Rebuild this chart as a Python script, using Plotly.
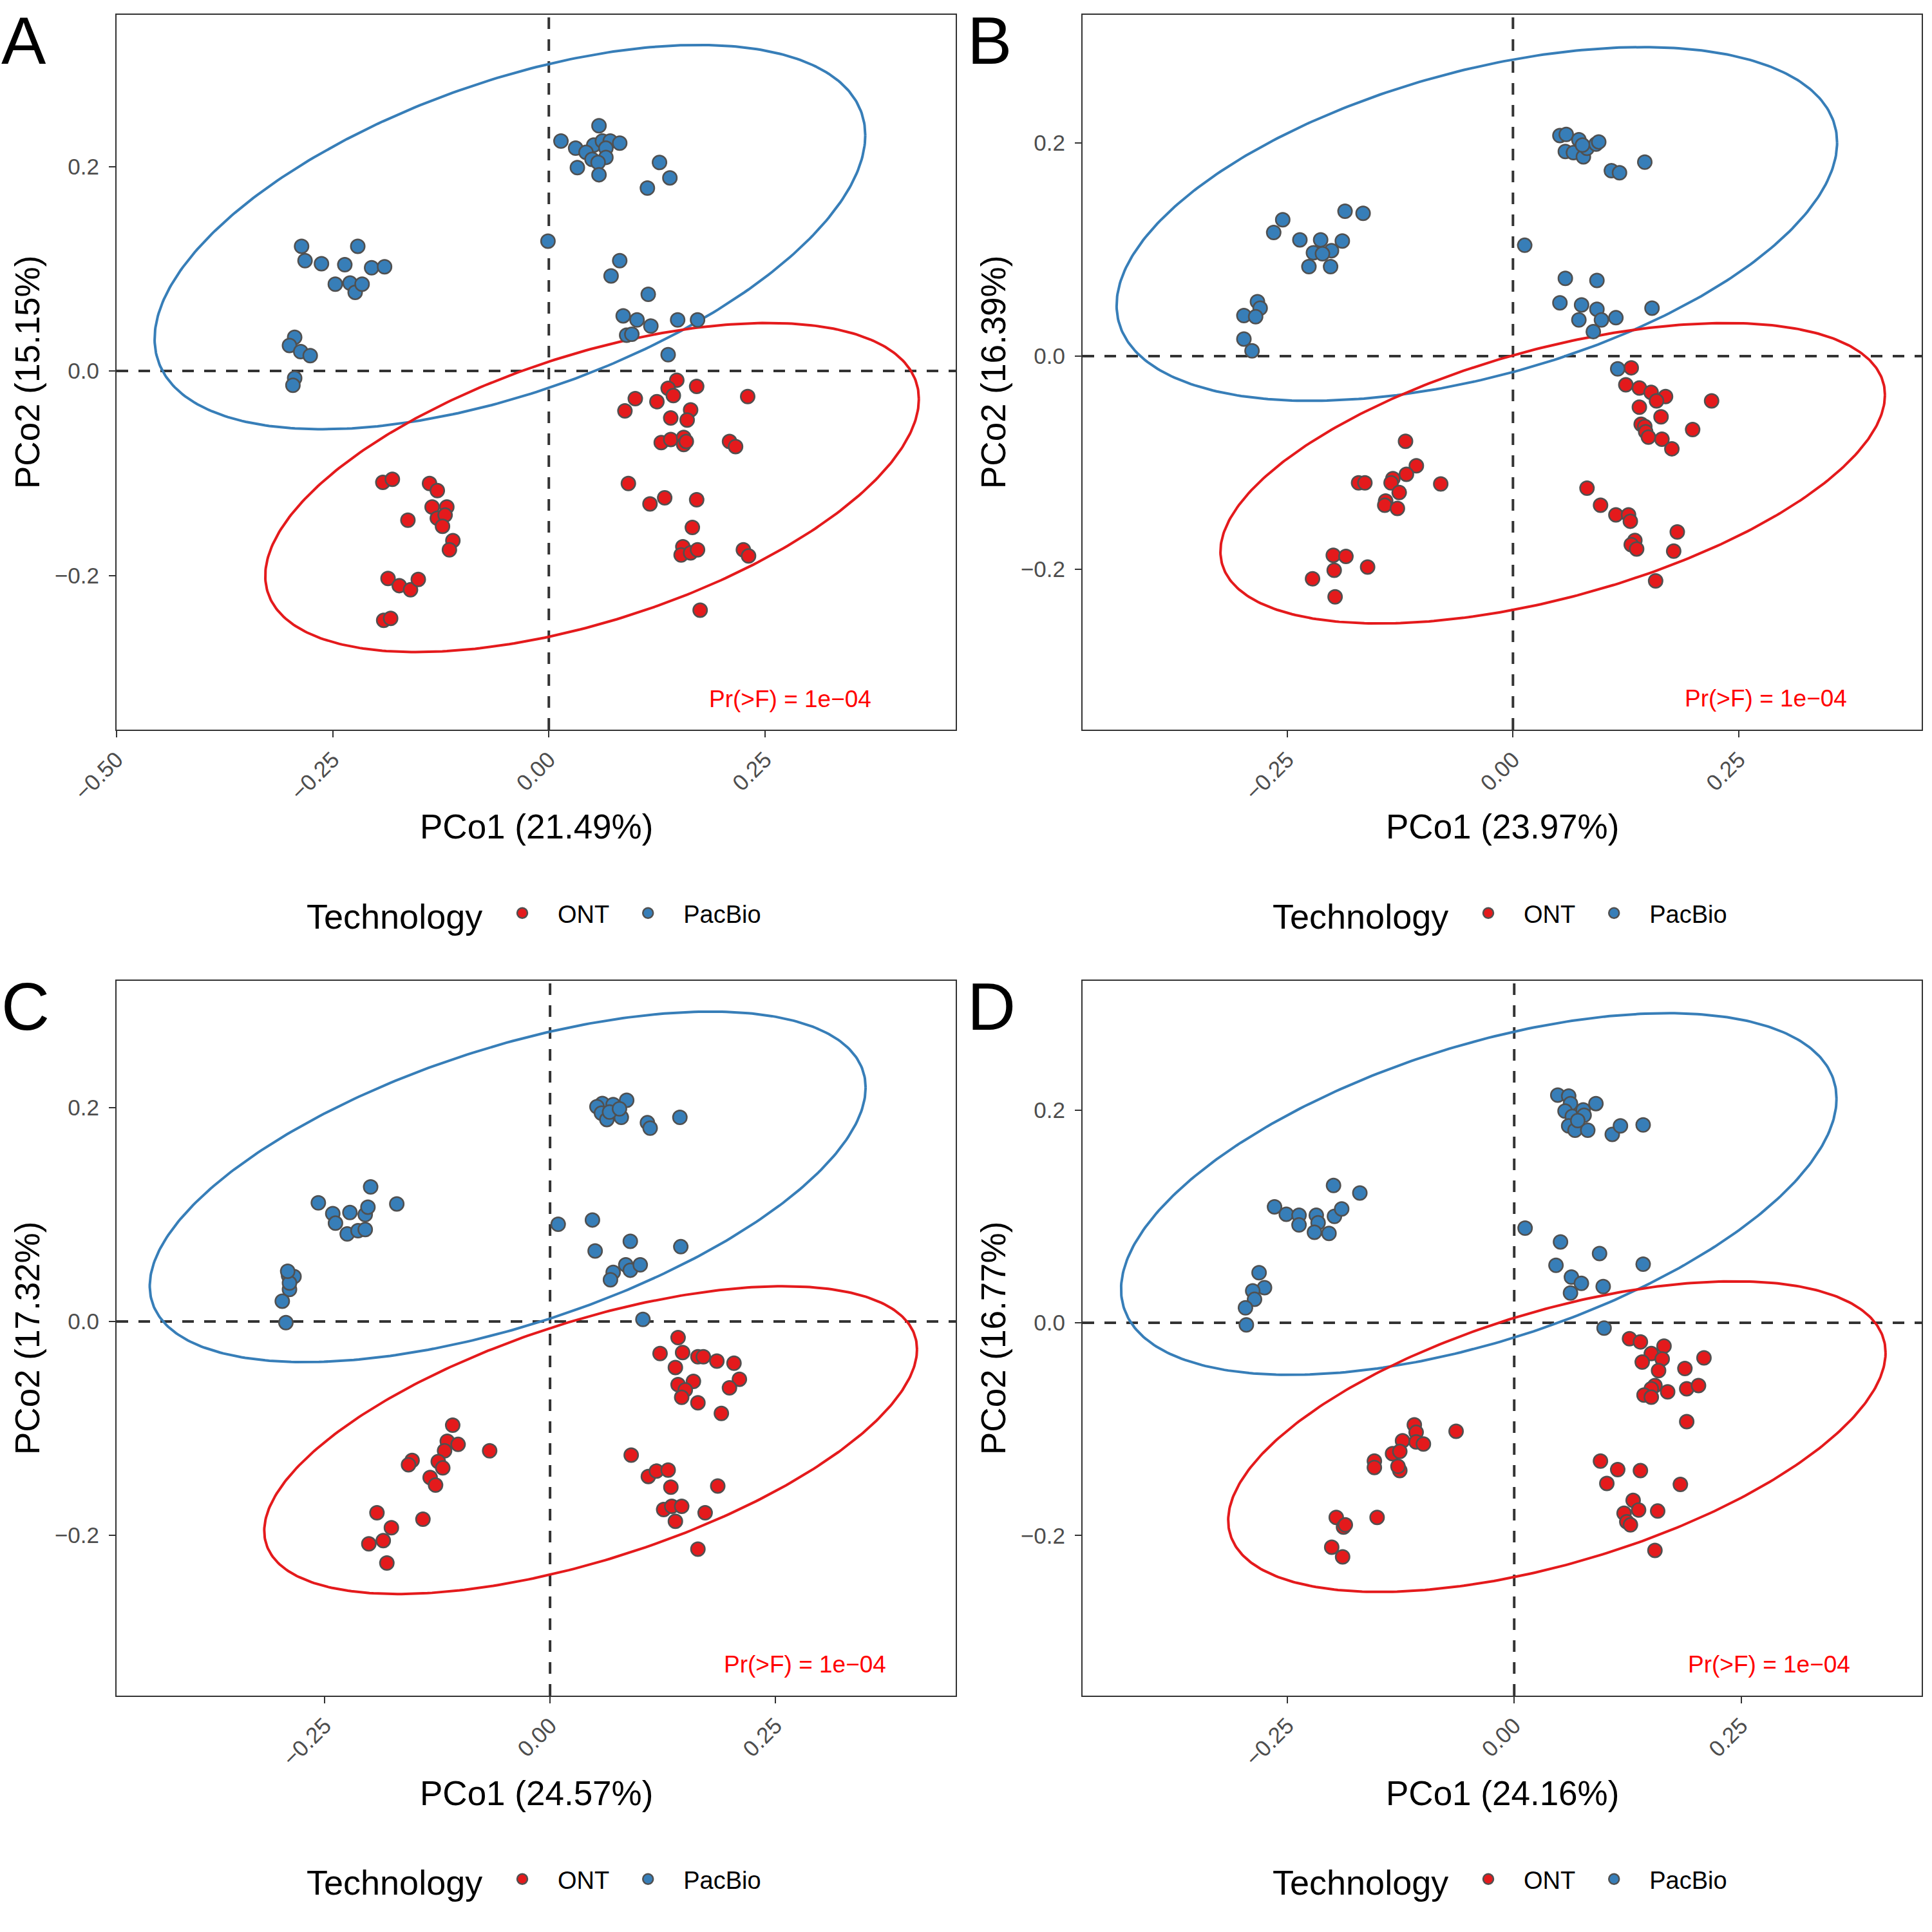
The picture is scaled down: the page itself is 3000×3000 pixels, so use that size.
import numpy as np
import plotly.graph_objects as go

# ---------------- data ----------------
panels = ["A", "B", "C", "D"]
x_titles = ["PCo1 (21.49%)", "PCo1 (23.97%)", "PCo1 (24.57%)", "PCo1 (24.16%)"]
y_titles = ["PCo2 (15.15%)", "PCo2 (16.39%)", "PCo2 (17.32%)", "PCo2 (16.77%)"]
groups = ["ONT", "PacBio"]
group_colors = ["#E41A1C", "#377EB8"]
legend_title = "Technology"
p_label = "Pr(>F) = 1e\u221204"

# Panel A
A_pac_x = [0.058, 0.014, 0.031, 0.052, 0.043, 0.062, 0.071, 0.082, 0.066, 0.050, 0.066, 0.057, 0.033, 0.058,
           0.128, 0.140, 0.114,
           -0.286, -0.282, -0.263, -0.236, -0.221, -0.247, -0.230, -0.224, -0.216, -0.205, -0.190,
           -0.294, -0.300, -0.287, -0.276, -0.294, -0.296,
           -0.001, 0.082, 0.072, 0.115, 0.086, 0.102, 0.118, 0.149, 0.172, 0.090, 0.096, 0.138]
A_pac_y = [0.240, 0.225, 0.218, 0.221, 0.214, 0.225, 0.225, 0.223, 0.218, 0.207, 0.209, 0.204, 0.199, 0.192,
           0.204, 0.189, 0.179,
           0.122, 0.108, 0.105, 0.104, 0.122, 0.085, 0.086, 0.077, 0.085, 0.101, 0.102,
           0.033, 0.025, 0.019, 0.015, -0.007, -0.014,
           0.127, 0.108, 0.093, 0.075, 0.054, 0.050, 0.044, 0.050, 0.050, 0.035, 0.036, 0.016]
A_ont_x = [0.148, 0.138, 0.144, 0.171, 0.230, 0.100, 0.088, 0.125, 0.141, 0.164, 0.160, 0.130, 0.141, 0.156,
           0.156, 0.159, 0.209, 0.216, 0.092, 0.117, 0.134, 0.171, 0.166, 0.155, 0.153, 0.164, 0.172, 0.225,
           0.231, 0.175,
           -0.192, -0.181, -0.138, -0.129, -0.135, -0.118, -0.129, -0.120, -0.123, -0.163, -0.111, -0.115,
           -0.186, -0.173, -0.160, -0.151, -0.191, -0.183]
A_ont_y = [-0.009, -0.017, -0.024, -0.015, -0.025, -0.027, -0.039, -0.030, -0.046, -0.038, -0.048, -0.070,
           -0.067, -0.065, -0.072, -0.069, -0.069, -0.074, -0.110, -0.130, -0.124, -0.126, -0.153, -0.172,
           -0.180, -0.178, -0.175, -0.175, -0.181, -0.234,
           -0.109, -0.106, -0.110, -0.117, -0.133, -0.133, -0.144, -0.141, -0.152, -0.146, -0.166, -0.175,
           -0.203, -0.210, -0.214, -0.204, -0.244, -0.242]

# Panel B
B_pac_x = [0.052, 0.059, 0.073, 0.058, 0.067, 0.078, 0.082, 0.092, 0.095, 0.077, 0.109, 0.118, 0.146,
           0.013, 0.058, 0.093, 0.052, 0.076, 0.093, 0.073, 0.098, 0.114, 0.089, 0.154,
           -0.265, -0.255, -0.236, -0.213, -0.221, -0.201, -0.189, -0.186, -0.166, -0.226, -0.202, -0.211,
           -0.298, -0.283, -0.280, -0.285, -0.298, -0.289, 0.116]
B_pac_y = [0.207, 0.208, 0.203, 0.192, 0.191, 0.187, 0.195, 0.199, 0.201, 0.198, 0.174, 0.172, 0.182,
           0.104, 0.073, 0.071, 0.050, 0.048, 0.044, 0.034, 0.034, 0.036, 0.023, 0.045,
           0.116, 0.128, 0.109, 0.109, 0.097, 0.099, 0.108, 0.136, 0.134, 0.084, 0.084, 0.096,
           0.038, 0.051, 0.045, 0.037, 0.016, 0.005, -0.012]
B_ont_x = [0.131, 0.125, 0.140, 0.153, 0.169, 0.159, 0.140, 0.164, 0.220, 0.142, 0.146, 0.147, 0.150,
           0.165, 0.176, 0.199,
           0.082, 0.097, 0.114, 0.128, 0.130, 0.135, 0.131, 0.137, 0.182, 0.178, 0.158,
           -0.119, -0.107, -0.118, -0.133, -0.135, -0.171, -0.164, -0.080, -0.126, -0.141, -0.142, -0.128,
           -0.199, -0.185, -0.198, -0.222, -0.161, -0.197]
B_ont_y = [-0.011, -0.027, -0.030, -0.034, -0.038, -0.042, -0.048, -0.057, -0.042, -0.064, -0.066, -0.071,
           -0.076, -0.078, -0.087, -0.069,
           -0.124, -0.140, -0.149, -0.149, -0.155, -0.173, -0.177, -0.181, -0.165, -0.183, -0.211,
           -0.080, -0.103, -0.111, -0.115, -0.119, -0.119, -0.119, -0.120, -0.128, -0.136, -0.140, -0.143,
           -0.187, -0.188, -0.201, -0.209, -0.198, -0.226]

# Panel C
C_pac_x = [0.058, 0.052, 0.070, 0.085, 0.057, 0.063, 0.079, 0.066, 0.108, 0.111, 0.144, 0.077,
           0.009, 0.047, 0.089, 0.050, 0.145, 0.070, 0.084, 0.089, 0.100, 0.067, 0.103,
           -0.257, -0.241, -0.238, -0.222, -0.225, -0.213, -0.205, -0.205, -0.202, -0.199, -0.170,
           -0.290, -0.284, -0.289, -0.289, -0.297, -0.293, -0.291]
C_pac_y = [0.204, 0.201, 0.203, 0.207, 0.195, 0.189, 0.191, 0.196, 0.186, 0.181, 0.191, 0.199,
           0.091, 0.095, 0.075, 0.066, 0.070, 0.046, 0.053, 0.048, 0.053, 0.039, 0.002,
           0.111, 0.101, 0.092, 0.102, 0.082, 0.085, 0.086, 0.100, 0.107, 0.126, 0.110,
           0.043, 0.042, 0.030, 0.036, 0.019, -0.001, 0.047]
C_ont_x = [0.142, 0.122, 0.147, 0.139, 0.164, 0.170, 0.185, 0.204, 0.210, 0.199, 0.159, 0.142, 0.150,
           0.146, 0.164, 0.190,
           0.090, 0.109, 0.118, 0.131, 0.134, 0.126, 0.135, 0.146, 0.139, 0.172, 0.186, 0.164,
           -0.108, -0.114, -0.102, -0.117, -0.124, -0.119, -0.133, -0.127, -0.153, -0.157, -0.067, -0.141,
           -0.192, -0.176, -0.185, -0.201, -0.181]
C_ont_y = [-0.015, -0.030, -0.029, -0.043, -0.033, -0.033, -0.037, -0.039, -0.054, -0.062, -0.056,
           -0.059, -0.064, -0.071, -0.076, -0.086,
           -0.125, -0.145, -0.140, -0.139, -0.155, -0.176, -0.173, -0.173, -0.187, -0.179, -0.154, -0.213,
           -0.097, -0.112, -0.115, -0.121, -0.131, -0.137, -0.146, -0.153, -0.130, -0.134, -0.121, -0.185,
           -0.179, -0.193, -0.205, -0.208, -0.226]

# Panel D
D_pac_x = [0.048, 0.060, 0.062, 0.056, 0.064, 0.076, 0.090, 0.077, 0.060, 0.067, 0.081, 0.108, 0.117,
           0.142, 0.070,
           0.012, 0.051, 0.046, 0.094, 0.142, 0.063, 0.074, 0.062, 0.098, 0.099,
           -0.264, -0.251, -0.237, -0.237, -0.218, -0.216, -0.220, -0.204, -0.198, -0.190, -0.199, -0.170,
           -0.281, -0.275, -0.288, -0.286, -0.296, -0.295]
D_pac_y = [0.214, 0.213, 0.206, 0.199, 0.194, 0.200, 0.206, 0.195, 0.185, 0.181, 0.181, 0.177, 0.185,
           0.186, 0.190,
           0.089, 0.076, 0.054, 0.065, 0.055, 0.043, 0.037, 0.028, 0.034, -0.005,
           0.109, 0.102, 0.101, 0.092, 0.101, 0.094, 0.085, 0.084, 0.100, 0.107, 0.129, 0.122,
           0.047, 0.033, 0.030, 0.022, 0.014, -0.002]
D_ont_x = [0.127, 0.139, 0.165, 0.151, 0.163, 0.141, 0.159, 0.188, 0.209, 0.155, 0.151, 0.143, 0.151,
           0.169, 0.190, 0.203, 0.190,
           0.095, 0.114, 0.102, 0.139, 0.183, 0.131, 0.121, 0.137, 0.124, 0.128, 0.158, 0.155,
           -0.110, -0.108, -0.123, -0.108, -0.100, -0.064, -0.134, -0.126, -0.126, -0.128, -0.154, -0.154,
           -0.151, -0.196, -0.188, -0.186, -0.201, -0.189]
D_ont_y = [-0.015, -0.018, -0.022, -0.029, -0.034, -0.037, -0.045, -0.043, -0.033, -0.059, -0.062,
           -0.068, -0.070, -0.065, -0.062, -0.059, -0.093,
           -0.130, -0.138, -0.151, -0.139, -0.152, -0.167, -0.179, -0.176, -0.187, -0.190, -0.177, -0.214,
           -0.096, -0.103, -0.111, -0.112, -0.114, -0.102, -0.123, -0.121, -0.139, -0.135, -0.130, -0.136,
           -0.183, -0.183, -0.192, -0.190, -0.211, -0.220]

# 95% ellipses per panel and group: centre x, centre y, half-width x, half-height y, correlation
ell_ont = {"cx": [0.050, 0.044, 0.045, 0.047], "cy": [-0.114, -0.110, -0.111, -0.107],
           "sx": [0.378, 0.368, 0.362, 0.362], "sy": [0.161, 0.141, 0.144, 0.146],
           "rho": [0.537, 0.521, 0.590, 0.540]}
ell_pac = {"cx": [-0.045, -0.040, -0.047, -0.039], "cy": [0.131, 0.124, 0.126, 0.121],
           "sx": [0.411, 0.399, 0.397, 0.394], "sy": [0.188, 0.166, 0.164, 0.170],
           "rho": [0.530, 0.460, 0.566, 0.527]}

# axis ranges and ticks
x_ranges = [[-0.5, 0.4706], [-0.4767, 0.4527], [-0.4808, 0.4499], [-0.4754, 0.4488]]
y_ranges = [[-0.3509, 0.3485], [-0.3506, 0.3203], [-0.3501, 0.3188], [-0.3505, 0.3214]]
x_tickvals = [[-0.5, -0.25, 0.0, 0.25], [-0.25, 0.0, 0.25], [-0.25, 0.0, 0.25], [-0.25, 0.0, 0.25]]
x_ticktext = [["\u22120.50", "\u22120.25", "0.00", "0.25"], ["\u22120.25", "0.00", "0.25"],
              ["\u22120.25", "0.00", "0.25"], ["\u22120.25", "0.00", "0.25"]]
y_tickvals = [-0.2, 0.0, 0.2]
y_ticktext = ["\u22120.2", "0.0", "0.2"]
p_pos_x = [0.279, 0.280, 0.283, 0.281]
p_pos_y = [-0.321, -0.321, -0.321, -0.321]

data = {
    "A": (A_ont_x, A_ont_y, A_pac_x, A_pac_y),
    "B": (B_ont_x, B_ont_y, B_pac_x, B_pac_y),
    "C": (C_ont_x, C_ont_y, C_pac_x, C_pac_y),
    "D": (D_ont_x, D_ont_y, D_pac_x, D_pac_y),
}

# ---------------- layout geometry (pixels of the 3000x3000 page) ----------------
W = H = 3000
col_left = [181, 1681, 181, 1681]
col_right = [1484, 2984, 1484, 2984]
row_top = [23, 23, 1523, 1523]
row_bot = [1133, 1133, 2633, 2633]
panel_x0 = [0, 1500, 0, 1500]
panel_y0 = [0, 0, 1500, 1500]
LEG_Y = 1418

FONT = "Liberation Sans, Arial, Helvetica, sans-serif"
EDGE = "#333333"
TICKC = "#4D4D4D"

fig = go.Figure()
t = np.linspace(0, 2 * np.pi, 400)

annotations = []
shapes = []
for i, p in enumerate(panels):
    sfx = "" if i == 0 else str(i + 1)
    xa, ya = "x" + sfx, "y" + sfx
    leg = "legend" + sfx
    ont_x, ont_y, pac_x, pac_y = data[p]

    # ellipses
    for ell, col in [(ell_pac, group_colors[1]), (ell_ont, group_colors[0])]:
        cx, cy, sx, sy, r = ell["cx"][i], ell["cy"][i], ell["sx"][i], ell["sy"][i], ell["rho"][i]
        ex = cx + sx * np.cos(t)
        ey = cy + sy * (r * np.cos(t) + np.sqrt(1 - r * r) * np.sin(t))
        fig.add_trace(go.Scatter(x=ex, y=ey, mode="lines", line=dict(color=col, width=4),
                                 xaxis=xa, yaxis=ya, showlegend=False, hoverinfo="skip"))

    # points
    for gx, gy, col, name in [(ont_x, ont_y, group_colors[0], groups[0]),
                              (pac_x, pac_y, group_colors[1], groups[1])]:
        fig.add_trace(go.Scatter(x=gx, y=gy, mode="markers", name=name,
                                 marker=dict(color=col, size=21.5, line=dict(color="#505050", width=2.5)),
                                 xaxis=xa, yaxis=ya, showlegend=True, legend=leg))

    dom_x = [col_left[i] / W, col_right[i] / W]
    dom_y = [1 - row_bot[i] / H, 1 - row_top[i] / H]
    fig.update_layout(**{
        "xaxis" + sfx: dict(domain=dom_x, range=x_ranges[i], anchor=ya, tickvals=x_tickvals[i],
                            ticktext=x_ticktext[i], tickangle=-45, showgrid=False, zeroline=False,
                            showline=True, mirror=True, linecolor=EDGE, linewidth=2.2, automargin=False,
                            ticks="outside", ticklen=10, tickwidth=2.2, tickcolor=EDGE,
                            tickfont=dict(family=FONT, size=35, color=TICKC)),
        "yaxis" + sfx: dict(domain=dom_y, range=y_ranges[i], anchor=xa, tickvals=y_tickvals,
                            ticktext=y_ticktext, showgrid=False, zeroline=False, automargin=False,
                            showline=True, mirror=True, linecolor=EDGE, linewidth=2.2,
                            ticks="outside", ticklen=10, tickwidth=2.2, tickcolor=EDGE,
                            ticklabelstandoff=8,
                            tickfont=dict(family=FONT, size=35, color=TICKC)),
        leg: dict(orientation="h", x=(panel_x0[i] + 756) / W, y=1 - (panel_y0[i] + LEG_Y) / H,
                  xanchor="left", yanchor="middle", bgcolor="rgba(0,0,0,0)",
                  font=dict(family=FONT, size=38, color="black"), itemsizing="trace", itemwidth=100,
                  tracegroupgap=0),
    })

    # dashed reference lines at zero
    shapes.append(dict(type="line", xref=xa + " domain", yref=ya, x0=0, x1=1, y0=0, y1=0,
                       line=dict(color=EDGE, width=4, dash="18px,16px"), layer="below"))
    shapes.append(dict(type="line", xref=xa, yref=ya + " domain", x0=0, x1=0, y0=0, y1=1,
                       line=dict(color=EDGE, width=4, dash="18px,16px"), layer="below"))

    # p-value label
    annotations.append(dict(text=p_label, x=p_pos_x[i], y=p_pos_y[i], xref=xa, yref=ya,
                            showarrow=False, font=dict(family=FONT, size=37, color="#FF0000"),
                            xanchor="center", yanchor="middle"))
    # axis titles
    annotations.append(dict(text=x_titles[i], x=(col_left[i] + col_right[i]) / 2 / W,
                            y=1 - (panel_y0[i] + 1284) / H, xref="paper", yref="paper",
                            showarrow=False, font=dict(family=FONT, size=53, color="black"),
                            xanchor="center", yanchor="middle"))
    annotations.append(dict(text=y_titles[i], x=(panel_x0[i] + 42) / W,
                            y=1 - (row_top[i] + row_bot[i]) / 2 / H, xref="paper", yref="paper",
                            showarrow=False, textangle=-90, font=dict(family=FONT, size=53, color="black"),
                            xanchor="center", yanchor="middle"))
    # legend title
    annotations.append(dict(text=legend_title, x=(panel_x0[i] + 474) / W, y=1 - (panel_y0[i] + LEG_Y + 5) / H,
                            xref="paper", yref="paper", showarrow=False,
                            font=dict(family=FONT, size=54, color="black"),
                            xanchor="left", yanchor="middle"))
    # panel letter
    annotations.append(dict(text=p, x=panel_x0[i] / W, y=1 - (panel_y0[i] + 63) / H,
                            xref="paper", yref="paper", showarrow=False,
                            font=dict(family=FONT, size=104, color="black"),
                            xanchor="left", yanchor="middle"))

fig.update_layout(width=W, height=H, margin=dict(l=0, r=0, t=0, b=0, autoexpand=False),
                  paper_bgcolor="white", plot_bgcolor="white",
                  annotations=annotations, shapes=shapes, showlegend=True,
                  font=dict(family=FONT))

fig.write_html("out.html", config={"displayModeBar": False},
               post_script="document.body.style.margin='0px';document.body.style.overflow='hidden';")
